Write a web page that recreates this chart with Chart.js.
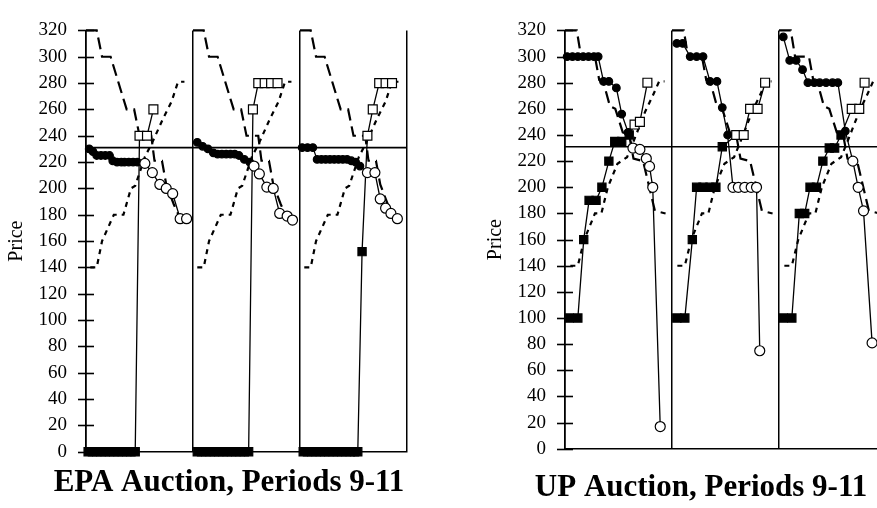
<!DOCTYPE html>
<html>
<head>
<meta charset="utf-8">
<script src="https://cdn.jsdelivr.net/npm/chart.js@4/dist/chart.umd.min.js"></script>
<style>
  html, body { margin: 0; padding: 0; background: #fff; overflow: hidden; }
  #wrap { position: relative; width: 877px; height: 508px; overflow: hidden; }
  canvas { position: absolute; top: 0; }
</style>
</head>
<body>
<div id="wrap">
  <canvas id="epa" width="458" height="508" style="left:0;width:458px;height:508px"></canvas>
  <canvas id="up" width="462" height="508" style="left:470px;width:462px;height:508px"></canvas>
</div>
<script>
const periods = ['9', '10', '11']
const clearingPrice = 231

// EPA auction: induced demand / supply steps (same in every period)
const epaDemandQty = [0, 1.0, 1.5, 2.3, 3.8, 4.5, 5.0, 6.1, 6.4, 7.1, 7.5, 8.2, 8.7, 9.3]
const epaDemandPrice = [320, 320, 300, 300, 260, 260, 240, 240, 221, 221, 203, 188, 179, 177]
const epaSupplyQty = [0.4, 1.0, 1.5, 2.6, 3.5, 4.2, 4.6, 5.5, 6.2, 7.2, 8.0, 8.6, 9.2]
const epaSupplyPrice = [140, 140, 160, 180, 180, 200, 202, 224, 235, 253, 266, 281, 281]

// EPA bids (circles) and offers (squares), per period; first N are filled
const epaBidQty = [
  [0.3, 0.65, 1.0, 1.4, 1.8, 2.2, 2.5, 2.9, 3.3, 3.6, 4.0, 4.4, 4.8, 5.5, 6.2, 6.9, 7.5, 8.1, 8.8, 9.4],
  [0.4, 0.9, 1.4, 1.9, 2.3, 2.7, 3.1, 3.5, 3.9, 4.3, 4.8, 5.3, 5.7, 6.2, 6.9, 7.5, 8.1, 8.8, 9.3],
  [0.2, 0.7, 1.2, 1.6, 2.0, 2.4, 2.8, 3.2, 3.6, 4.0, 4.4, 4.8, 5.2, 5.6, 6.3, 7.0, 7.5, 8.0, 8.5, 9.1],
]
const epaBidPrice = [
  [230, 228, 225, 225, 225, 225, 221, 220, 220, 220, 220, 220, 220, 219, 212, 203, 200, 196, 177, 177],
  [235, 232, 230, 227, 226, 226, 226, 226, 226, 225, 222, 220, 217, 211, 201, 200, 181, 179, 176],
  [231, 231, 231, 222, 222, 222, 222, 222, 222, 222, 222, 221, 220, 217, 212, 212, 192, 185, 181, 177],
]
const epaBidsFilled = [13, 12, 14]
const epaOfferQty = [
  [0.2, 0.6, 1.0, 1.4, 1.8, 2.2, 2.6, 3.0, 3.4, 3.8, 4.2, 4.6, 5.0, 5.7, 6.3],
  [0.4, 0.8, 1.2, 1.6, 2.0, 2.4, 2.8, 3.2, 3.6, 4.0, 4.4, 4.8, 5.2, 5.6, 6.1, 6.7, 7.3, 7.9],
  [0.3, 0.7, 1.1, 1.5, 1.9, 2.3, 2.7, 3.1, 3.5, 3.9, 4.3, 4.7, 5.1, 5.4, 5.8, 6.3, 6.8, 7.4, 8.0, 8.6],
]
const epaOfferPrice = [
  [0, 0, 0, 0, 0, 0, 0, 0, 0, 0, 0, 0, 240, 240, 260],
  [0, 0, 0, 0, 0, 0, 0, 0, 0, 0, 0, 0, 0, 260, 280, 280, 280, 280],
  [0, 0, 0, 0, 0, 0, 0, 0, 0, 0, 0, 0, 0, 0, 152, 240, 260, 280, 280, 280],
]
const epaOffersFilled = [12, 13, 15]

// UP auction
const upDemandQty = [0, 1.1, 1.5, 2.8, 3.2, 3.6, 4.2, 4.7, 5.4, 6.0, 6.4, 7.3, 8.4, 9.4]
const upDemandPrice = [320, 320, 300, 300, 282, 280, 262, 260, 242, 240, 222, 220, 182, 180]
const upSupplyQty = [0.5, 1.2, 1.8, 2.8, 3.4, 4.0, 4.9, 5.8, 6.4, 7.5, 8.2, 8.8, 9.3]
const upSupplyPrice = [140, 140, 160, 180, 180, 200, 218, 223, 235, 258, 270, 281, 281]

const upBidQty = [
  [0.2, 0.7, 1.2, 1.7, 2.2, 2.7, 3.1, 3.6, 4.1, 4.8, 5.3, 5.9, 6.35, 7.0, 7.6, 7.9, 8.2, 8.9],
  [0.45, 1.0, 1.7, 2.3, 2.9, 3.55, 4.2, 4.7, 5.2, 5.7, 6.2, 6.8, 7.4, 7.9, 8.2],
  [0.4, 1.0, 1.6, 2.2, 2.7, 3.3, 3.8, 4.4, 5.0, 5.5, 6.2, 6.9, 7.4, 7.9, 8.7],
]
const upBidPrice = [
  [300, 300, 300, 300, 300, 300, 300, 281, 281, 276, 256, 242, 230, 229, 222, 216, 200, 17],
  [310, 310, 300, 300, 300, 281, 281, 261, 240, 200, 200, 200, 200, 200, 75],
  [315, 297, 297, 290, 280, 280, 280, 280, 280, 280, 243, 220, 200, 182, 81],
]
const upBidsFilled = [12, 9, 11]
const upOfferQty = [
  [0.4, 1.2, 1.75, 2.25, 2.9, 3.45, 4.1, 4.65, 5.3, 6.0, 6.5, 7.0, 7.7],
  [0.45, 1.2, 1.9, 2.3, 2.9, 3.55, 4.1, 4.7, 6.0, 6.7, 7.3, 8.0, 8.7],
  [0.4, 1.2, 1.9, 2.4, 2.9, 3.5, 4.1, 4.7, 5.2, 5.8, 6.8, 7.5, 8.0],
]
const upOfferPrice = [
  [100, 100, 160, 190, 190, 200, 220, 235, 235, 240, 248, 250, 280],
  [100, 100, 160, 200, 200, 200, 200, 231, 240, 240, 260, 260, 280],
  [100, 100, 180, 180, 200, 200, 220, 230, 230, 240, 260, 260, 280],
]
const upOffersFilled = [10, 8, 10]

const periodWidth = 10
const serif = "'Liberation Serif', 'Times New Roman', serif"

Chart.defaults.font.family = serif
Chart.defaults.color = '#000'

function points(qty, price, p) {
  return qty.map((q, i) => ({ x: p * periodWidth + q, y: price[i] }))
}

function markers(qty, price, filled, p, style, rFilled, rOpen) {
  return {
    data: points(qty, price, p),
    borderColor: '#000',
    borderWidth: 1.3,
    pointStyle: style,
    pointRadius: qty.map((_, i) => (i < filled ? rFilled : rOpen)),
    pointBackgroundColor: qty.map((_, i) => (i < filled ? '#000' : '#fff')),
    pointBorderColor: '#000',
    pointBorderWidth: 1.2,
    clip: false,
  }
}

function curve(qty, price, p, dash, width) {
  return {
    data: points(qty, price, p),
    borderColor: '#000',
    borderWidth: width,
    borderDash: dash,
    pointRadius: 0,
    clip: false,
  }
}

function buildDatasets(s) {
  const bids = [], offers = [], demand = [], supply = []
  periods.forEach((name, p) => {
    bids.push(markers(s.bidQty[p], s.bidPrice[p], s.bidsFilled[p], p, 'circle', 3.8, 5))
    offers.push(markers(s.offerQty[p], s.offerPrice[p], s.offersFilled[p], p, 'rect', 5.8, 6.3))
    demand.push(curve(s.demandQty, s.demandPrice, p, [12, 6], 2.2))
    supply.push(curve(s.supplyQty, s.supplyPrice, p, [5, 5], 2.2))
  })
  const clearing = {
    data: [{ x: 0, y: clearingPrice }, { x: periods.length * periodWidth, y: clearingPrice }],
    borderColor: '#000',
    borderWidth: 1.6,
    pointRadius: 0,
  }
  // first dataset is drawn on top
  return [...bids, ...offers, clearing, ...demand, ...supply]
}

const crossTicks = {
  id: 'crossTicks',
  afterDraw(chart) {
    const y = chart.scales.y
    const x0 = chart.chartArea.left
    const ctx = chart.ctx
    ctx.save()
    ctx.strokeStyle = '#000'
    ctx.lineWidth = 1.6
    y.ticks.forEach((t) => {
      const py = Math.round(y.getPixelForValue(t.value)) + 0.5
      ctx.beginPath()
      ctx.moveTo(x0 - 8, py)
      ctx.lineTo(x0 + 8, py)
      ctx.stroke()
    })
    ctx.restore()
  },
}

function draw(id, series, opts) {
  new Chart(document.getElementById(id), {
    type: 'line',
    data: { datasets: buildDatasets(series) },
    plugins: [crossTicks],
    options: {
      responsive: false,
      animation: false,
      events: [],
      layout: { padding: opts.padding },
      plugins: {
        legend: { display: false },
        tooltip: { enabled: false },
        title: {
          display: true,
          position: 'bottom',
          text: opts.title,
          color: '#000',
          font: { family: serif, size: 31, weight: 'bold' },
          padding: { top: opts.titleGap, bottom: 0 },
        },
      },
      scales: {
        x: {
          type: 'linear',
          min: 0,
          max: periods.length * periodWidth,
          ticks: { display: false, stepSize: periodWidth },
          grid: { color: '#000', lineWidth: 1.5, drawTicks: false },
          border: { color: '#000', width: 1.5 },
        },
        y: {
          min: 0,
          max: 320,
          ticks: { stepSize: 20, color: '#000', padding: 19, font: { family: serif, size: 19 } },
          grid: { display: false, drawTicks: false },
          border: { display: true, color: '#000', width: 1.6 },
          title: {
            display: true,
            text: 'Price',
            color: '#000',
            font: { family: serif, size: 20 },
            padding: { top: opts.yTitleGap, bottom: 0 },
          },
          afterFit(scale) {
            scale.width = opts.axisWidth
          },
        },
        // empty right-hand box: keeps the bottom title centred under the whole figure
        yRight: {
          position: 'right',
          min: 0,
          max: 320,
          ticks: { display: false },
          grid: { display: false, drawTicks: false },
          border: { display: false },
          afterFit(scale) {
            scale.width = opts.rightGap
          },
        },
      },
    },
  })
}

draw('epa', {
  demandQty: epaDemandQty, demandPrice: epaDemandPrice,
  supplyQty: epaSupplyQty, supplyPrice: epaSupplyPrice,
  bidQty: epaBidQty, bidPrice: epaBidPrice, bidsFilled: epaBidsFilled,
  offerQty: epaOfferQty, offerPrice: epaOfferPrice, offersFilled: epaOffersFilled,
}, {
  title: 'EPA Auction, Periods 9-11',
  padding: { top: 20, right: 0, bottom: 6, left: 0 },
  titleGap: 13,
  yTitleGap: 5,
  axisWidth: 86,
  rightGap: 51,
})

draw('up', {
  demandQty: upDemandQty, demandPrice: upDemandPrice,
  supplyQty: upSupplyQty, supplyPrice: upSupplyPrice,
  bidQty: upBidQty, bidPrice: upBidPrice, bidsFilled: upBidsFilled,
  offerQty: upOfferQty, offerPrice: upOfferPrice, offersFilled: upOffersFilled,
}, {
  title: 'UP Auction, Periods 9-11',
  padding: { top: 17, right: 0, bottom: 1, left: 0 },
  titleGap: 21,
  yTitleGap: 14,
  axisWidth: 95,
  rightGap: 46,
})
</script>
</body>
</html>
